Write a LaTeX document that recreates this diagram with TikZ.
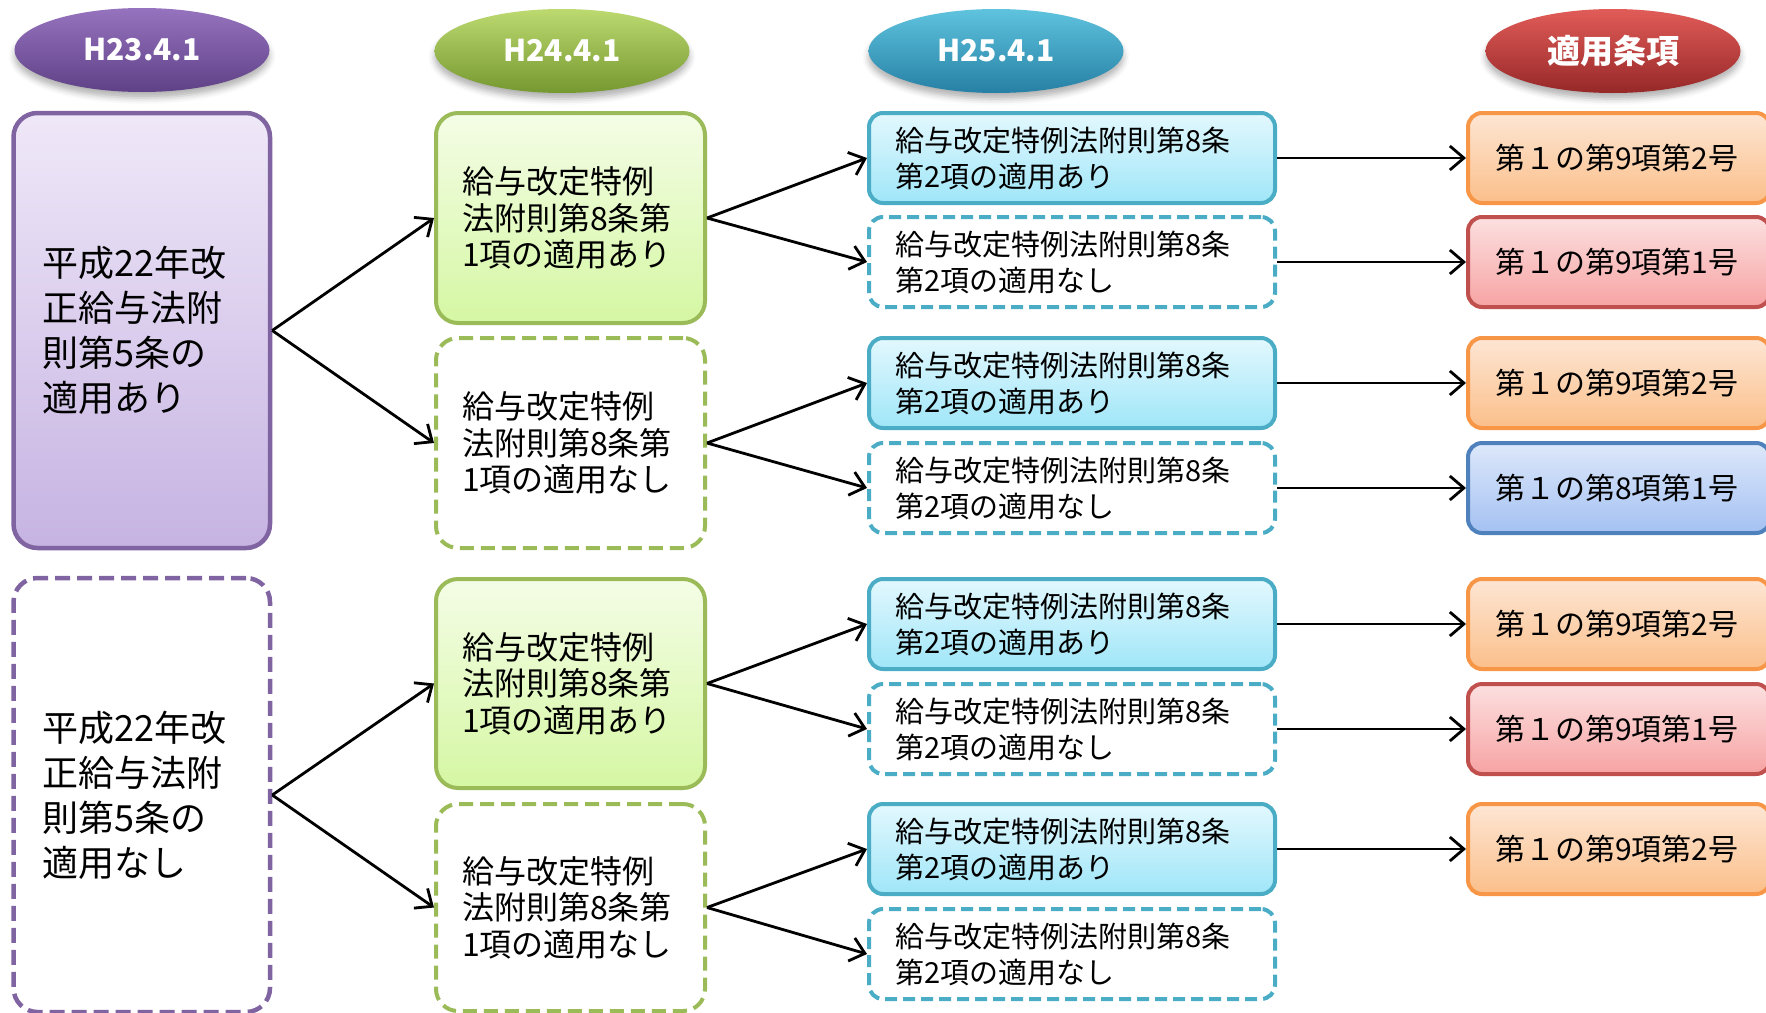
\documentclass[tikz,border=0pt]{standalone}
\usepackage{fontspec}
\setmainfont{Noto Sans CJK JP}
\usetikzlibrary{arrows.meta,shapes.geometric,shadows.blur}

\definecolor{purpleB}{RGB}{128,100,162}
\definecolor{greenB}{RGB}{155,187,89}
\definecolor{tealB}{RGB}{75,172,198}
\definecolor{redB}{RGB}{192,80,77}
\definecolor{orangeB}{RGB}{247,150,70}
\definecolor{blueB}{RGB}{79,129,189}

\tikzset{
  hdr/.style={ellipse, minimum width=255pt, minimum height=84pt, inner sep=0pt,
    text=white, font=\fontsize{30}{34}\selectfont\bfseries,
    blur shadow={shadow xshift=0pt, shadow yshift=-6pt, shadow blur radius=6pt, shadow opacity=30}},
  hpurple/.style={hdr, top color={rgb,255:red,150;green,115;blue,190}, middle color={rgb,255:red,128;green,92;blue,166}, bottom color={rgb,255:red,95;green,65;blue,135}},
  hgreen/.style={hdr, top color={rgb,255:red,188;green,218;blue,112}, middle color={rgb,255:red,155;green,190;blue,75}, bottom color={rgb,255:red,118;green,152;blue,48}},
  hteal/.style={hdr, top color={rgb,255:red,95;green,195;blue,222}, middle color={rgb,255:red,60;green,165;blue,200}, bottom color={rgb,255:red,38;green,128;blue,165}},
  hred/.style={hdr, top color={rgb,255:red,225;green,92;blue,88}, middle color={rgb,255:red,195;green,60;blue,58}, bottom color={rgb,255:red,150;green,40;blue,40}, font=\fontsize{33}{36}\selectfont\bfseries},
  box/.style={rectangle, line width=4pt, align=left, inner ysep=0pt, text=black},
  dsh/.style={dash pattern=on 12pt off 6pt, fill=white},
  col1/.style={box, line width=4.5pt, inner xsep=29pt, text width=198.5pt, rounded corners=24pt, font=\fontsize{36}{45}\selectfont},
  col2/.style={box, inner xsep=26pt, text width=217pt, rounded corners=22pt, font=\fontsize{32}{36.6}\selectfont},
  col3/.style={box, inner xsep=26pt, text width=354pt, minimum height=90pt, rounded corners=14pt, font=\fontsize{29}{36}\selectfont},
  col4/.style={box, inner xsep=27pt, text width=248pt, minimum height=90pt, rounded corners=14pt, font=\fontsize{30}{34}\selectfont},
  psolid/.style={col1, draw=purpleB, top color={rgb,255:red,239;green,232;blue,248}, bottom color={rgb,255:red,198;green,179;blue,226}},
  pdash/.style={col1, draw=purpleB, dash pattern=on 15pt off 7pt, fill=white},
  gsolid/.style={col2, draw=greenB, top color={rgb,255:red,244;green,253;blue,230}, bottom color={rgb,255:red,213;green,247;blue,163}},
  gdash/.style={col2, draw=greenB, dash pattern=on 14pt off 7pt, fill=white},
  tsolid/.style={col3, draw=tealB, top color={rgb,255:red,227;green,248;blue,254}, bottom color={rgb,255:red,159;green,230;blue,248}},
  tdash/.style={col3, draw=tealB, dsh},
  rorange/.style={col4, draw=orangeB, top color={rgb,255:red,253;green,230;blue,212}, bottom color={rgb,255:red,251;green,191;blue,138}},
  rred/.style={col4, draw=redB, top color={rgb,255:red,252;green,224;blue,224}, bottom color={rgb,255:red,247;green,163;blue,163}},
  rblue/.style={col4, draw=blueB, top color={rgb,255:red,221;green,232;blue,250}, bottom color={rgb,255:red,164;green,193;blue,242}},
  arr/.style={-{Straight Barb[length=14pt,width=24pt]}, line width=2.8pt, black}
}

\begin{document}
\begin{tikzpicture}[x=1pt,y=-1pt]
\useasboundingbox (0,0) rectangle (1766,1012);
\clip (0,0) rectangle (1766,1012);

% headers
\node[hpurple] (e1) at (142,50) {H23.4.1};
\node[hgreen]  (e2) at (562,51) {H24.4.1};
\node[hteal]   (e3) at (996,51) {H25.4.1};
\node[hred]    (e4) at (1613,51) {適用条項};

% column 1
\node[psolid, minimum height=435pt] (a1) at (141.75,330.5) {平成22年改\\正給与法附\\則第5条の\\適用あり};
\node[pdash, minimum height=434pt] (a2) at (141.75,795) {平成22年改\\正給与法附\\則第5条の\\適用なし};

% column 2
\node[gsolid, minimum height=210pt] (b1) at (570.5,218) {給与改定特例\\法附則第8条第\\1項の適用あり};
\node[gdash, minimum height=210pt] (b2) at (570.5,443) {給与改定特例\\法附則第8条第\\1項の適用なし};
\node[gsolid, minimum height=209pt] (b3) at (570.5,683.5) {給与改定特例\\法附則第8条第\\1項の適用あり};
\node[gdash, minimum height=207pt] (b4) at (570.5,907.5) {給与改定特例\\法附則第8条第\\1項の適用なし};

% column 3
\node[tsolid] (c1) at (1072,158) {給与改定特例法附則第8条\\第2項の適用あり};
\node[tdash]  (c2) at (1072,262) {給与改定特例法附則第8条\\第2項の適用なし};
\node[tsolid] (c3) at (1072,383) {給与改定特例法附則第8条\\第2項の適用あり};
\node[tdash]  (c4) at (1072,488) {給与改定特例法附則第8条\\第2項の適用なし};
\node[tsolid] (c5) at (1072,624) {給与改定特例法附則第8条\\第2項の適用あり};
\node[tdash]  (c6) at (1072,729) {給与改定特例法附則第8条\\第2項の適用なし};
\node[tsolid] (c7) at (1072,849) {給与改定特例法附則第8条\\第2項の適用あり};
\node[tdash]  (c8) at (1072,954) {給与改定特例法附則第8条\\第2項の適用なし};

% column 4
\node[rorange] (d1) at (1619,158) {第１の第9項第2号};
\node[rred]    (d2) at (1619,262) {第１の第9項第1号};
\node[rorange] (d3) at (1619,383) {第１の第9項第2号};
\node[rblue]   (d4) at (1619,488) {第１の第8項第1号};
\node[rorange] (d5) at (1619,624) {第１の第9項第2号};
\node[rred]    (d6) at (1619,729) {第１の第9項第1号};
\node[rorange] (d7) at (1619,849) {第１の第9項第2号};

% connectors
\draw[arr] (a1.east) -- (b1.west);
\draw[arr] (a1.east) -- (b2.west);
\draw[arr] (a2.east) -- (b3.west);
\draw[arr] (a2.east) -- (b4.west);
\draw[arr] (b1.east) -- (c1.west);
\draw[arr] (b1.east) -- (c2.west);
\draw[arr] (b2.east) -- (c3.west);
\draw[arr] (b2.east) -- (c4.west);
\draw[arr] (b3.east) -- (c5.west);
\draw[arr] (b3.east) -- (c6.west);
\draw[arr] (b4.east) -- (c7.west);
\draw[arr] (b4.east) -- (c8.west);
\draw[arr] (c1.east) -- (d1.west);
\draw[arr] (c2.east) -- (d2.west);
\draw[arr] (c3.east) -- (d3.west);
\draw[arr] (c4.east) -- (d4.west);
\draw[arr] (c5.east) -- (d5.west);
\draw[arr] (c6.east) -- (d6.west);
\draw[arr] (c7.east) -- (d7.west);
\end{tikzpicture}
\end{document}
